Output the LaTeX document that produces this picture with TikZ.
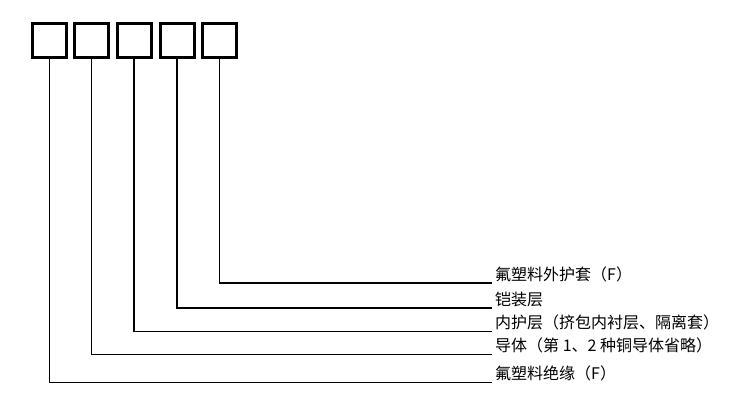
\documentclass[tikz,border=0pt]{standalone}
\usepackage{fontspec}
\newfontfamily\cjk{Noto Sans CJK SC}
\begin{document}
\begin{tikzpicture}[x=1pt,y=-1pt,
  codebox/.style={draw=black,line width=3pt,minimum width=34pt,minimum height=34pt,inner sep=0pt},
  conn/.style={draw=black,line width=1.4pt},
  lab/.style={anchor=base west,inner sep=0pt,font=\cjk\fontsize{16}{16}\selectfont}]
\useasboundingbox[fill=white] (0,0) rectangle (756,418);
\node[codebox] (b1) at (49.5,40.8) {};
\node[codebox] (b2) at (91.5,40.8) {};
\node[codebox] (b3) at (134,40.8) {};
\node[codebox] (b4) at (177,40.8) {};
\node[codebox] (b5) at (219.5,40.8) {};
\coordinate (c5) at (492,283);
\coordinate (c4) at (492,308);
\coordinate (c3) at (492,331.5);
\coordinate (c2) at (492,354.5);
\coordinate (c1) at (492,382.5);
\node[lab] (l5) at (495,280) {氟塑料外护套（F）};
\node[lab] (l4) at (495,305) {铠装层};
\node[lab] (l3) at (495,328.5) {内护层（挤包内衬层、隔离套）};
\node[lab] (l2) at (495,351.5) {导体（第 1、2 种铜导体省略）};
\node[lab] (l1) at (495,379.5) {氟塑料绝缘（F）};
\draw[conn] (b5.south) |- (c5);
\draw[conn] (b4.south) |- (c4);
\draw[conn] (b3.south) |- (c3);
\draw[conn] (b2.south) |- (c2);
\draw[conn] (b1.south) |- (c1);
\end{tikzpicture}
\end{document}
